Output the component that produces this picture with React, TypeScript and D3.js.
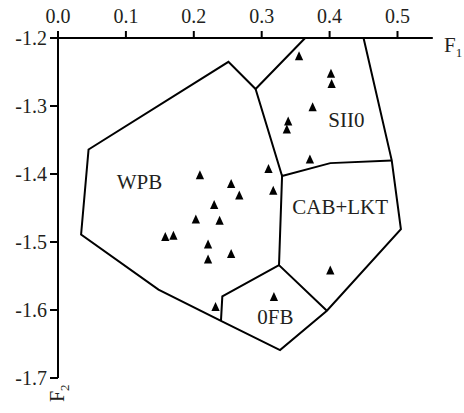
import React from "react";
import * as d3 from "d3";

// Discriminant function scores (F1, F2) of the samples
const sampleF1 = [
  0.209, 0.255, 0.267, 0.23, 0.203, 0.238, 0.158, 0.17, 0.221, 0.255, 0.221,
  0.31, 0.317, 0.232, 0.401, 0.318, 0.355, 0.402, 0.403, 0.375, 0.339, 0.337,
  0.371,
];
const sampleF2 = [
  -1.401, -1.414, -1.431, -1.445, -1.466, -1.468, -1.492, -1.49, -1.503,
  -1.517, -1.525, -1.392, -1.424, -1.595, -1.541, -1.58, -1.226, -1.252,
  -1.267, -1.301, -1.322, -1.334, -1.378,
];

// Field boundaries, as [F1, F2] polylines
const outerBoundary: [number, number][] = [
  [0.364, -1.2], [0.291, -1.275], [0.251, -1.235], [0.045, -1.364],
  [0.034, -1.489], [0.148, -1.57], [0.24, -1.616], [0.327, -1.659],
  [0.396, -1.601], [0.505, -1.481], [0.4915, -1.38], [0.45, -1.2],
];
const siioBoundary: [number, number][] = [
  [0.291, -1.275], [0.33, -1.403], [0.401, -1.384], [0.4915, -1.38],
];
const cabBoundary: [number, number][] = [
  [0.33, -1.403], [0.3255, -1.534], [0.396, -1.601],
];
const ofbBoundary: [number, number][] = [
  [0.3255, -1.534], [0.242, -1.58], [0.24, -1.616],
];

// Field names and where they are written, in F1/F2 units
const fieldNames = ["WPB", "SII0", "CAB+LKT", "0FB"];
const fieldF1 = [0.0864, 0.398, 0.345, 0.2935];
const fieldF2 = [-1.4225, -1.331, -1.4588, -1.6206];

const xTicks = [0, 0.1, 0.2, 0.3, 0.4, 0.5];
const yTicks = [-1.2, -1.3, -1.4, -1.5, -1.6, -1.7];

const W = 464;
const H = 413;
const FONT = "'Liberation Serif', 'Times New Roman', serif";
const TEXT = "#231f20";

// Slightly tall isosceles triangle marker, centred on its bounding box
const tallTriangle: d3.SymbolType = {
  draw(context, size) {
    const h = Math.sqrt(size) * 1.5;
    const w = h * 0.92;
    context.moveTo(0, -h / 2);
    context.lineTo(w / 2, h / 2);
    context.lineTo(-w / 2, h / 2);
    context.closePath();
  },
};

export default function App() {
  const x = d3.scaleLinear().domain([0, 0.5]).range([58, 397.5]);
  const y = d3.scaleLinear().domain([-1.2, -1.7]).range([38, 378]);
  const line = d3
    .line<[number, number]>()
    .x((d) => x(d[0]))
    .y((d) => y(d[1]));
  const tri = d3.symbol(tallTriangle, 36)()!;
  const boundaries = [outerBoundary, siioBoundary, cabBoundary, ofbBoundary];
  const x0 = x(0);
  const y0 = y(-1.2);
  const xEnd = x(0.552);
  const yEnd = y(-1.7);

  return (
    <svg
      width={W}
      height={H}
      style={{ position: "absolute", left: 0, top: 0, background: "#fff" }}
      fontFamily={FONT}
    >
      <rect width={W} height={H} fill="#fff" />
      {/* field boundaries */}
      {boundaries.map((b, i) => (
        <path
          key={i}
          d={line(b)!}
          fill="none"
          stroke="#000"
          strokeWidth={2}
          strokeLinejoin="miter"
        />
      ))}
      {/* axes */}
      <line x1={x0 - 8} x2={xEnd} y1={y0} y2={y0} stroke="#000" strokeWidth={2} />
      <line x1={x0} x2={x0} y1={y0 - 7} y2={yEnd} stroke="#000" strokeWidth={2} />
      {xTicks.map((t) => (
        <g key={"x" + t}>
          <line x1={x(t)} x2={x(t)} y1={y0} y2={y0 - 7} stroke="#000" strokeWidth={2} />
          <text x={x(t)} y={23} textAnchor="middle" fontSize={20} fill={TEXT}>
            {t.toFixed(1)}
          </text>
        </g>
      ))}
      {yTicks.map((t) => (
        <g key={"y" + t}>
          <line x1={x0 - 8} x2={x0} y1={y(t)} y2={y(t)} stroke="#000" strokeWidth={2} />
          <text x={47} y={y(t) + 6.5} textAnchor="end" fontSize={20} fill={TEXT}>
            {t.toFixed(1)}
          </text>
        </g>
      ))}
      <text x={444} y={52} fontSize={21} fill={TEXT}>
        F<tspan fontSize={13} dy={5}>1</tspan>
      </text>
      <text transform={`translate(64,402) rotate(-90)`} fontSize={20} fill={TEXT}>
        F<tspan fontSize={13} dy={5}>2</tspan>
      </text>
      {/* samples */}
      {sampleF1.map((f1, i) => (
        <path key={"s" + i} d={tri} transform={`translate(${x(f1)},${y(sampleF2[i])})`} fill="#000" />
      ))}
      {/* field names */}
      {fieldNames.map((n, i) => (
        <text key={n} x={x(fieldF1[i])} y={y(fieldF2[i])} fontSize={21} fill={TEXT}>
          {n}
        </text>
      ))}
    </svg>
  );
}
